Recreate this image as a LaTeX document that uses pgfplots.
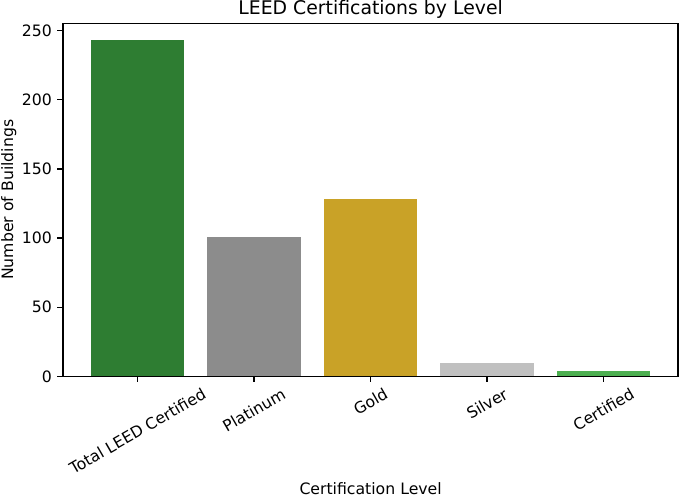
\documentclass[border=0pt]{standalone}
\usepackage{fontspec}
\setmainfont{DejaVu Sans}
\usepackage{graphicx}
\usepackage{pgfplots}
\pgfplotsset{compat=1.18}
\definecolor{cTotal}{HTML}{2E7D32}
\definecolor{cPlat}{HTML}{8C8C8C}
\definecolor{cGold}{HTML}{C9A227}
\definecolor{cSilver}{HTML}{C0C0C0}
\definecolor{cCert}{HTML}{4CAF50}
\begin{document}
\begin{tikzpicture}
\path[use as bounding box] (0,0) rectangle (433.2pt,316pt);
\begin{axis}[
  at={(40.1pt,76.2pt)}, anchor=south west,
  scale only axis, width=391.8pt, height=224.9pt,
  xmin=-0.64, xmax=4.64, ymin=0, ymax=255.15,
  xtick={0,1,2,3,4},
  xticklabels={\rotatebox{30}{Total LEED Certified},\rotatebox{30}{Platinum},\rotatebox{30}{Gold},\rotatebox{30}{Silver},\rotatebox{30}{Certified}},
  ytick={0,50,100,150,200,250},
  tick align=outside, major tick length=3.5pt,
  xtick pos=lower, ytick pos=left,
  tick style={black, line width=0.8pt},
  axis line style={black, line width=0.8pt},
  ticklabel style={font=\fontsize{10}{12}\selectfont},
  /pgf/number format/assume math mode=true,
  bar width=0.8,
]
\addplot[ybar, bar shift=0pt, fill=cTotal, draw=none] coordinates {(0,243)};
\addplot[ybar, bar shift=0pt, fill=cPlat, draw=none] coordinates {(1,101)};
\addplot[ybar, bar shift=0pt, fill=cGold, draw=none] coordinates {(2,128)};
\addplot[ybar, bar shift=0pt, fill=cSilver, draw=none] coordinates {(3,10)};
\addplot[ybar, bar shift=0pt, fill=cCert, draw=none] coordinates {(4,4)};
\end{axis}
\node[anchor=base, font=\fontsize{12}{14}\selectfont] at (236.1pt,306.8pt) {LEED Certifications by Level};
\node[anchor=base, font=\fontsize{10}{12}\selectfont, inner sep=0pt] at (236.1pt,0.9pt) {Certification Level};
\node[rotate=90, anchor=center, font=\fontsize{10}{12}\selectfont, inner sep=0pt] at (5.6pt,188.7pt) {Number of Buildings};
\end{tikzpicture}
\end{document}
